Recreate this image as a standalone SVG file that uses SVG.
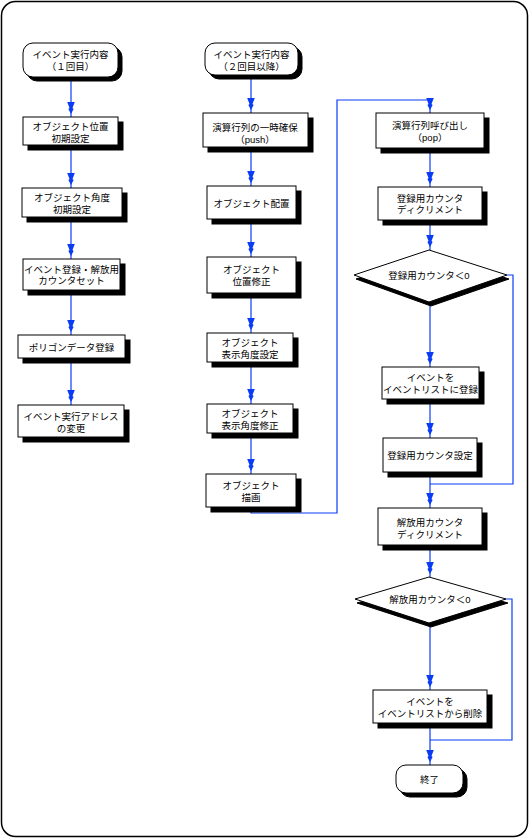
<svg xmlns="http://www.w3.org/2000/svg" width="529" height="839" viewBox="0 0 529 839">
<style>
.bx{fill:#fff;stroke:#000;stroke-width:1}
.sh{fill:#000;stroke:#000;stroke-width:1}
.t{font-family:"Liberation Sans","Noto Sans CJK JP",sans-serif;font-size:9.5px;fill:#000;text-anchor:middle}
.c{fill:none;stroke:#0a3cf5;stroke-width:1.2}
</style>
<defs>
<marker id="ah" markerUnits="userSpaceOnUse" viewBox="0 -5 20 10" refX="19" refY="0" markerWidth="20" markerHeight="10" orient="auto">
<polygon points="4,3.8 4,-3.8 10,-1.5 11,-2.6 16,0 11,2.6 10,1.5" fill="#0a3cf5"/>
</marker>
</defs>
<rect x="1.5" y="1.5" width="526" height="835" rx="14" fill="#fff" stroke="#000" stroke-width="1.5"/>

<g id="connectors">
<path class="c" d="M71,77 V117" marker-end="url(#ah)"/>
<path class="c" d="M71,145 V188" marker-end="url(#ah)"/>
<path class="c" d="M71,217 V259" marker-end="url(#ah)"/>
<path class="c" d="M71,290 V335" marker-end="url(#ah)"/>
<path class="c" d="M71,358 V405" marker-end="url(#ah)"/>
<path class="c" d="M251,75 V113" marker-end="url(#ah)"/>
<path class="c" d="M251,147 V186" marker-end="url(#ah)"/>
<path class="c" d="M251,219 V257" marker-end="url(#ah)"/>
<path class="c" d="M251,293 V333" marker-end="url(#ah)"/>
<path class="c" d="M251,362 V404" marker-end="url(#ah)"/>
<path class="c" d="M251,433 V474" marker-end="url(#ah)"/>
<path class="c" d="M251,507 V513 H337 V100 H430 V113" marker-end="url(#ah)"/>
<path class="c" d="M430,148 V187" marker-end="url(#ah)"/>
<path class="c" d="M430,220 V250" marker-end="url(#ah)"/>
<path class="c" d="M430,302 V367" marker-end="url(#ah)"/>
<path class="c" d="M430,399 V438" marker-end="url(#ah)"/>
<path class="c" d="M430,472 V508" marker-end="url(#ah)"/>
<path class="c" d="M507,275 H513 V484 H430"/>
<path class="c" d="M430,545 V577" marker-end="url(#ah)"/>
<path class="c" d="M430,623 V690" marker-end="url(#ah)"/>
<path class="c" d="M506,599 H512 V740 H430"/>
<path class="c" d="M430,723 V765" marker-end="url(#ah)"/>
</g>

<g id="start1">
<rect class="sh" x="27" y="47" width="95" height="34" rx="10"/>
<rect class="bx" x="23" y="43" width="95" height="34" rx="10"/>
<text class="t" x="70.5" y="58">イベント実行内容</text>
<text class="t" x="70.5" y="69.5">（１回目）</text>
</g>
<g id="l1">
<rect class="sh" x="28" y="122" width="95" height="28"/>
<rect class="bx" x="23" y="117" width="95" height="28"/>
<text class="t" x="70.5" y="130">オブジェクト位置</text>
<text class="t" x="70.5" y="141.5">初期設定</text>
</g>
<g id="l2">
<rect class="sh" x="27" y="193" width="100" height="29"/>
<rect class="bx" x="22" y="188" width="100" height="29"/>
<text class="t" x="72" y="201">オブジェクト角度</text>
<text class="t" x="72" y="212.5">初期設定</text>
</g>
<g id="l3">
<rect class="sh" x="28" y="264" width="97" height="31"/>
<rect class="bx" x="23" y="259" width="97" height="31"/>
<text class="t" x="71.5" y="272.5">イベント登録・解放用</text>
<text class="t" x="71.5" y="284">カウンタセット</text>
</g>
<g id="l4">
<rect class="sh" x="23" y="340" width="107" height="23"/>
<rect class="bx" x="18" y="335" width="107" height="23"/>
<text class="t" x="71.5" y="350.5">ポリゴンデータ登録</text>
</g>
<g id="l5">
<rect class="sh" x="23" y="410" width="106" height="32"/>
<rect class="bx" x="18" y="405" width="106" height="32"/>
<text class="t" x="71" y="420">イベント実行アドレス</text>
<text class="t" x="71" y="431.5">の変更</text>
</g>

<g id="start2">
<rect class="sh" x="209" y="47" width="93" height="32" rx="10"/>
<rect class="bx" x="205" y="43" width="93" height="32" rx="10"/>
<text class="t" x="251.5" y="58">イベント実行内容</text>
<text class="t" x="251.5" y="69.5">（２回目以降）</text>
</g>
<g id="m1">
<rect class="sh" x="208" y="118" width="105" height="34"/>
<rect class="bx" x="203" y="113" width="105" height="34"/>
<text class="t" x="255" y="131">演算行列の一時確保</text>
<text class="t" x="255" y="142.5">（push）</text>
</g>
<g id="m2">
<rect class="sh" x="212" y="191" width="89" height="33"/>
<rect class="bx" x="207" y="186" width="89" height="33"/>
<text class="t" x="251.5" y="206.5">オブジェクト配置</text>
</g>
<g id="m3">
<rect class="sh" x="212" y="262" width="89" height="36"/>
<rect class="bx" x="207" y="257" width="89" height="36"/>
<text class="t" x="251.5" y="273">オブジェクト</text>
<text class="t" x="251.5" y="284.5">位置修正</text>
</g>
<g id="m4">
<rect class="sh" x="212" y="338" width="86" height="29"/>
<rect class="bx" x="207" y="333" width="86" height="29"/>
<text class="t" x="250" y="346">オブジェクト</text>
<text class="t" x="250" y="357.5">表示角度設定</text>
</g>
<g id="m5">
<rect class="sh" x="212" y="409" width="86" height="29"/>
<rect class="bx" x="207" y="404" width="86" height="29"/>
<text class="t" x="250" y="417">オブジェクト</text>
<text class="t" x="250" y="428.5">表示角度修正</text>
</g>
<g id="m6">
<rect class="sh" x="211" y="479" width="90" height="33"/>
<rect class="bx" x="206" y="474" width="90" height="33"/>
<text class="t" x="251" y="489">オブジェクト</text>
<text class="t" x="251" y="500.5">描画</text>
</g>

<g id="r1">
<rect class="sh" x="381" y="118" width="108" height="35"/>
<rect class="bx" x="376" y="113" width="108" height="35"/>
<text class="t" x="430" y="129">演算行列呼び出し</text>
<text class="t" x="430" y="141">（pop）</text>
</g>
<g id="r2">
<rect class="sh" x="383" y="192" width="104" height="33"/>
<rect class="bx" x="378" y="187" width="104" height="33"/>
<text class="t" x="430" y="201.5">登録用カウンタ</text>
<text class="t" x="430" y="213">ディクリメント</text>
</g>
<g id="d1">
<polygon class="sh" points="431,254 509,279 431,306 356,279"/>
<polygon class="bx" points="429,250 507,275 429,302 354,275"/>
<text class="t" x="429" y="279">登録用カウンタ＜0</text>
</g>
<g id="r3">
<rect class="sh" x="387" y="372" width="97" height="32"/>
<rect class="bx" x="382" y="367" width="97" height="32"/>
<text class="t" x="430.5" y="381">イベントを</text>
<text class="t" x="430.5" y="393">イベントリストに登録</text>
</g>
<g id="r4">
<rect class="sh" x="388" y="443" width="94" height="34"/>
<rect class="bx" x="383" y="438" width="94" height="34"/>
<text class="t" x="430" y="458.5">登録用カウンタ設定</text>
</g>
<g id="r5">
<rect class="sh" x="383" y="513" width="104" height="37"/>
<rect class="bx" x="378" y="508" width="104" height="37"/>
<text class="t" x="430" y="526">解放用カウンタ</text>
<text class="t" x="430" y="537.5">ディクリメント</text>
</g>
<g id="d2">
<polygon class="sh" points="431,581 508,603 431,627 357,603"/>
<polygon class="bx" points="429,577 506,599 429,623 355,599"/>
<text class="t" x="430" y="603">解放用カウンタ＜0</text>
</g>
<g id="r6">
<rect class="sh" x="378" y="695" width="114" height="33"/>
<rect class="bx" x="373" y="690" width="114" height="33"/>
<text class="t" x="430" y="705">イベントを</text>
<text class="t" x="430" y="716.5">イベントリストから削除</text>
</g>
<g id="end">
<rect class="sh" x="400" y="769" width="67" height="28" rx="10"/>
<rect class="bx" x="396" y="765" width="67" height="28" rx="10"/>
<text class="t" x="429.5" y="783">終了</text>
</g>
</svg>
